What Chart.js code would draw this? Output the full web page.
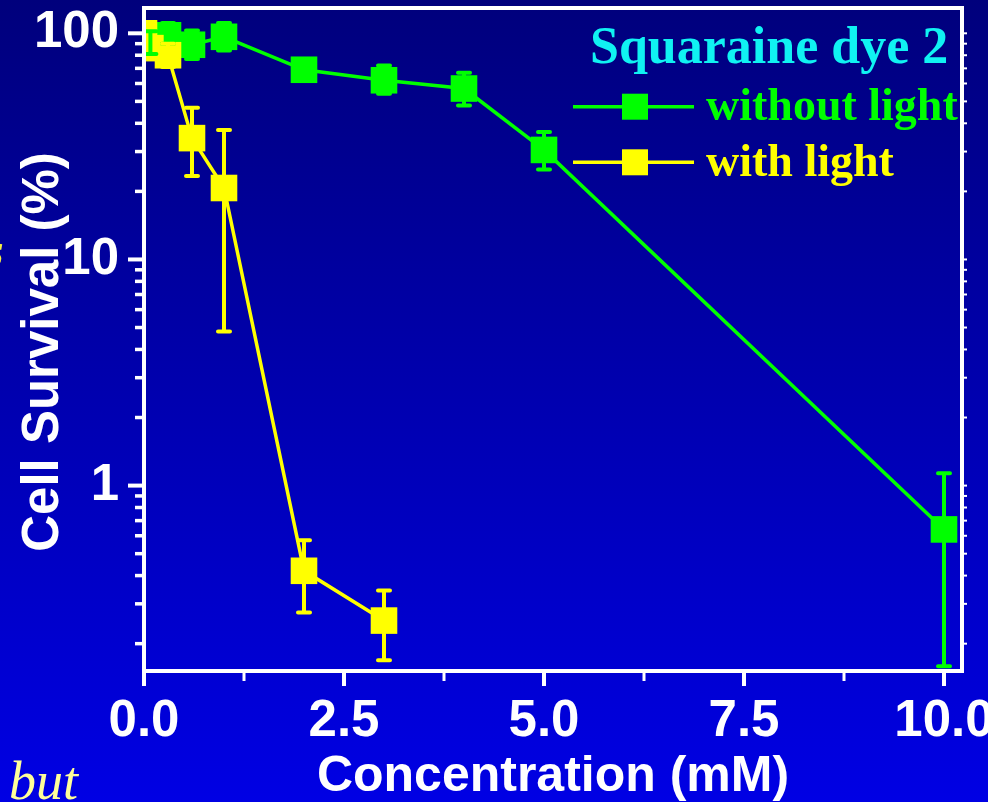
<!DOCTYPE html>
<html><head><meta charset="utf-8">
<script src="https://cdn.jsdelivr.net/npm/chart.js@4.4.1/dist/chart.umd.min.js"></script>
<style>
html,body{margin:0;padding:0;width:988px;height:802px;overflow:hidden;background:linear-gradient(to bottom,#00007c 0%,#0000e4 100%);}
#wrap{position:relative;width:988px;height:802px;}
canvas{display:block;}
</style></head><body>
<div id="wrap"><canvas id="c" width="988" height="802"></canvas></div>
<script>
// ---- tick labels ----
const xTickValues = [0, 2.5, 5, 7.5, 10];
const xMinorTicks = [1.25, 3.75, 6.25, 8.75];
const yTickValues = [1, 10, 100];
const yMinorTicks = [0.2,0.3,0.4,0.5,0.6,0.7,0.8,0.9, 2,3,4,5,6,7,8,9, 20,30,40,50,60,70,80,90];

// ---- series: without light (green) ----
const darkX  = [0.08, 0.3, 0.6, 1, 2, 3, 4, 5, 10];
const darkY  = [92, 98, 89, 96.5, 69, 62, 57, 30.5, 0.64];
const darkLo = [81, 90, 77, 84, 63, 54, 48, 25, 0.159];
const darkHi = [102, 111, 103, 111, 75, 72, 67, 36.6, 1.135];

// ---- series: with light (yellow) ----
const lightX  = [0, 0.08, 0.3, 0.6, 1, 2, 3];
const lightY  = [100, 86, 80, 34.4, 20.7, 0.42, 0.253];
const lightLo = [100, 86, 71, 23.4, 4.8, 0.275, 0.169];
const lightHi = [100, 86, 90, 46.9, 37.4, 0.573, 0.344];

const GREEN = '#00ff00', YELLOW = '#ffff00', CYAN = '#10f2f2', WHITE = '#ffffff';
const SANS = '"Liberation Sans", Arial, sans-serif';
const SERIF = '"Liberation Serif", "Times New Roman", serif';
const Y_TITLE = 'Cell Survival (%)';

function pts(xs, ys){ return xs.map((x,i)=>({x:x, y:ys[i]})); }

const errorData = [
  {lo: lightLo, hi: lightHi, xs: lightX},
  {lo: darkLo, hi: darkHi, xs: darkX}
];

const framePlugin = {
  id: 'frameErr',
  afterDatasetsDraw(chart){
    const ctx = chart.ctx, a = chart.chartArea;
    const xs = chart.scales.x, ys = chart.scales.y;
    // error bars (drawn above all markers)
    ctx.save();
    ctx.beginPath(); ctx.rect(a.left, a.top, a.right-a.left, a.bottom-a.top); ctx.clip();
    ctx.lineWidth = 4; ctx.lineCap = 'round';
    for (let d = chart.data.datasets.length-1; d >= 0; d--){
      const e = errorData[d];
      ctx.strokeStyle = chart.data.datasets[d].borderColor;
      e.xs.forEach((xv,i)=>{
        if (e.hi[i] === e.lo[i]) return;
        const px = xs.getPixelForValue(xv);
        const pLo = ys.getPixelForValue(e.lo[i]);
        const pHi = ys.getPixelForValue(e.hi[i]);
        ctx.beginPath();
        ctx.moveTo(px, pLo); ctx.lineTo(px, pHi);
        ctx.moveTo(px-6, pLo); ctx.lineTo(px+6, pLo);
        ctx.moveTo(px-6, pHi); ctx.lineTo(px+6, pHi);
        ctx.stroke();
      });
    }
    ctx.restore();
    // frame
    ctx.save();
    ctx.strokeStyle = WHITE; ctx.lineWidth = 4;
    ctx.strokeRect(a.left, a.top, a.right-a.left, a.bottom-a.top);
    ctx.lineCap = 'butt';
    xTickValues.forEach(v=>{
      const p = xs.getPixelForValue(v);
      ctx.lineWidth = 4; ctx.beginPath(); ctx.moveTo(p, a.bottom); ctx.lineTo(p, a.bottom+15); ctx.stroke();
    });
    xMinorTicks.forEach(v=>{
      const p = xs.getPixelForValue(v);
      ctx.lineWidth = 3; ctx.beginPath(); ctx.moveTo(p, a.bottom); ctx.lineTo(p, a.bottom+10); ctx.stroke();
    });
    yTickValues.forEach(v=>{
      const p = ys.getPixelForValue(v);
      ctx.lineWidth = 4; ctx.beginPath(); ctx.moveTo(a.left-16, p); ctx.lineTo(a.left, p); ctx.stroke();
      ctx.lineWidth = 2; ctx.beginPath(); ctx.moveTo(a.right, p); ctx.lineTo(a.right+5, p); ctx.stroke();
    });
    yMinorTicks.forEach(v=>{
      const p = ys.getPixelForValue(v);
      if (p < a.top || p > a.bottom) return;
      ctx.lineWidth = 3.5; ctx.beginPath(); ctx.moveTo(a.left-9, p); ctx.lineTo(a.left, p); ctx.stroke();
      ctx.lineWidth = 2; ctx.beginPath(); ctx.moveTo(a.right, p); ctx.lineTo(a.right+5, p); ctx.stroke();
    });
    ctx.restore();
  },
  afterDraw(chart){
    const ctx = chart.ctx;
    const dsDark = chart.data.datasets[1], dsLight = chart.data.datasets[0];
    ctx.save();
    // y-axis title
    ctx.save();
    ctx.translate(58, 352); ctx.rotate(-Math.PI/2);
    ctx.fillStyle = WHITE; ctx.font = 'bold 51px ' + SANS;
    ctx.textAlign = 'center'; ctx.textBaseline = 'alphabetic';
    ctx.fillText(Y_TITLE, 0, 0);
    ctx.restore();
    // legend
    ctx.textBaseline = 'alphabetic'; ctx.textAlign = 'left';
    ctx.fillStyle = CYAN; ctx.font = 'bold 52px ' + SERIF;
    ctx.fillText('Squaraine dye 2', 590, 63);
    const items = [[dsDark, 106.7, 120], [dsLight, 162.3, 176]];
    items.forEach(([ds, ly, by])=>{
      ctx.strokeStyle = ds.borderColor; ctx.lineWidth = 3.5;
      ctx.beginPath(); ctx.moveTo(573, ly); ctx.lineTo(694, ly); ctx.stroke();
      ctx.fillStyle = ds.backgroundColor; ctx.fillRect(622, ly-13, 26, 26);
      ctx.font = 'bold 46px ' + SERIF; ctx.fillText(ds.label, 706, by);
    });
    // slide remnants
    ctx.fillStyle = '#ffff99'; ctx.font = 'italic 54px ' + SERIF;
    ctx.fillText('but', 9, 799);
    ctx.fillStyle = '#f8f040'; ctx.font = 'italic bold 48px ' + SERIF;
    ctx.fillText('s', -15, 266);
    ctx.restore();
  }
};

new Chart(document.getElementById('c'), {
  type: 'line',
  data: {
    datasets: [
      {label: 'with light', data: pts(lightX, lightY), borderColor: YELLOW, backgroundColor: YELLOW,
       borderWidth: 3.5, pointStyle: 'rect', pointRadius: 18.8, pointBorderWidth: 0, pointHoverRadius: 18.8, order: 0, tension: 0},
      {label: 'without light', data: pts(darkX, darkY), borderColor: GREEN, backgroundColor: GREEN,
       borderWidth: 3.5, pointStyle: 'rect', pointRadius: 18.8, pointBorderWidth: 0, pointHoverRadius: 18.8, order: 1, tension: 0}
    ]
  },
  options: {
    responsive: false, animation: false, devicePixelRatio: 1,
    layout: {autoPadding: false, padding: {left: 0, top: 8, right: 26, bottom: 0}},
    plugins: {legend: {display: false}, tooltip: {enabled: false}},
    scales: {
      x: {
        type: 'linear', position: 'bottom', min: 0, max: 10.225,
        grid: {display: false, drawTicks: false}, border: {display: false},
        afterBuildTicks: s => { s.ticks = xTickValues.map(v => ({value: v})); },
        afterFit: s => { s.height = 131; s.paddingLeft = 0; s.paddingRight = 0; },
        ticks: {color: WHITE, autoSkip: false, maxRotation: 0, padding: 25,
          font: {family: SANS, size: 51, weight: 'bold', lineHeight: 1},
          callback: v => Number(v).toFixed(1)},
        title: {display: true, text: 'Concentration (mM)', color: WHITE,
          font: {family: SANS, size: 50, weight: 'bold', lineHeight: 1}, padding: {top: 0, bottom: 0}}
      },
      y: {
        type: 'logarithmic', position: 'left', min: 0.1514, max: 129.4,
        grid: {display: false, drawTicks: false}, border: {display: false},
        afterBuildTicks: s => { s.ticks = yTickValues.map(v => ({value: v})); },
        afterFit: s => { s.width = 144; s.paddingTop = 0; s.paddingBottom = 0; },
        ticks: {color: WHITE, autoSkip: false, padding: 25,
          font: {family: SANS, size: 51, weight: 'bold', lineHeight: 1},
          callback: v => String(v)},
        title: {display: false, text: Y_TITLE}
      }
    }
  },
  plugins: [framePlugin]
});
</script>
</body></html>
